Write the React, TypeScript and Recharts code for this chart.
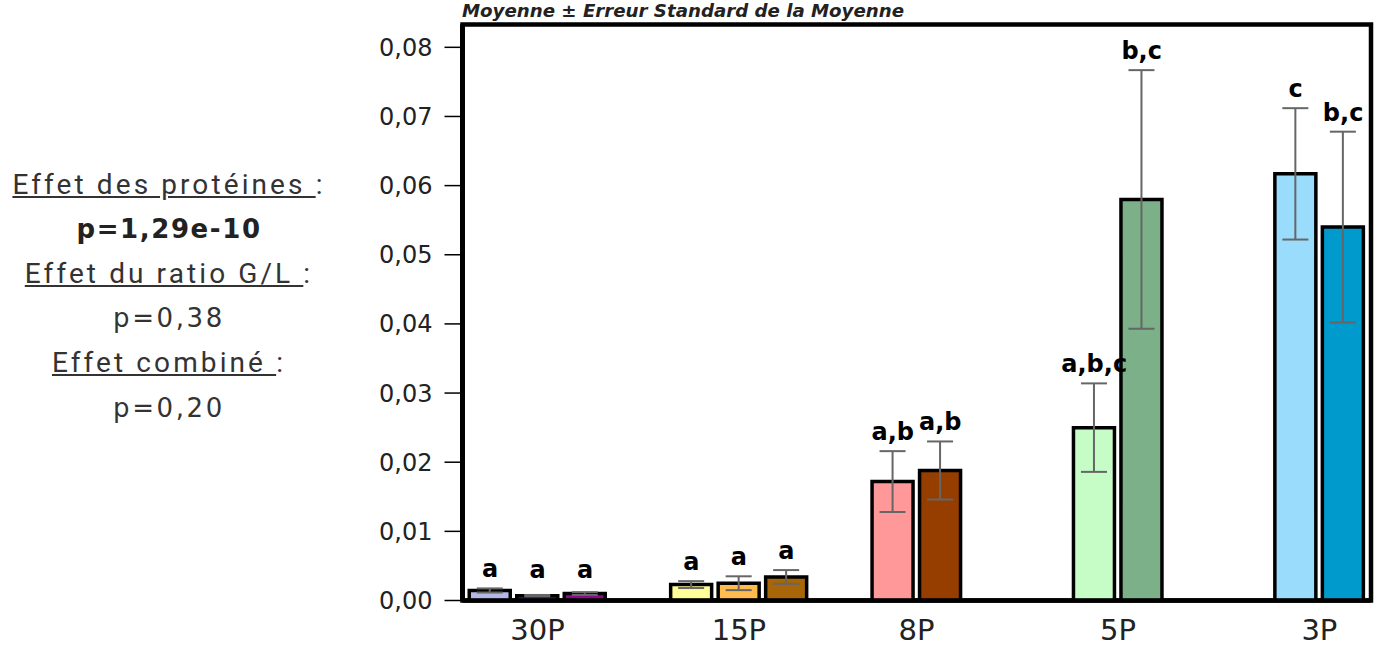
import React from 'react';
import { ComposedChart, Bar, Cell, ErrorBar, Scatter, XAxis, YAxis, ReferenceArea } from 'recharts';

// ---- data ----
const groupLabels = ['30P', '15P', '8P', '5P', '3P'];
const barGroup = [0, 0, 0, 1, 1, 1, 2, 2, 3, 3, 4, 4];
const barSlot = [0, 1, 2, 0, 1, 2, 0, 1, 0, 1, 0, 1];
const barMean = [0.00145, 0.0007, 0.001, 0.0023, 0.0025, 0.0034, 0.0172, 0.0188, 0.025, 0.058, 0.0617, 0.054];
const barSem = [0.0003, 0.0001, 0.0002, 0.0005, 0.001, 0.001, 0.0044, 0.0042, 0.0064, 0.0187, 0.0095, 0.0138];
const barColor = ['#b3b8e6', '#3b2fa0', '#8b0a8b', '#ffff99', '#ffbb4d', '#a86608', '#ff9999', '#953e00', '#c6fcc6', '#7bb089', '#9adcfc', '#009bcc'];
const barLetter = ['a', 'a', 'a', 'a', 'a', 'a', 'a,b', 'a,b', 'a,b,c', 'b,c', 'c', 'b,c'];
const yTicks = [0, 0.01, 0.02, 0.03, 0.04, 0.05, 0.06, 0.07, 0.08];

// layout constants (slot units)
const GROUP_STRIDE = 4.24;
const X_DOMAIN: [number, number] = [-0.579, 18.547];
const Y_DOMAIN: [number, number] = [0, 0.0833];

const data = barMean.map((m, i) => ({
  x: barGroup[i] * GROUP_STRIDE + barSlot[i],
  mean: m,
  sem: barSem[i],
  top: m + barSem[i],
  letter: barLetter[i],
  color: barColor[i],
}));

const groupCenters = groupLabels.map((_, g) => {
  const xs = data.filter((_, i) => barGroup[i] === g).map((d) => d.x);
  return (Math.min(...xs) + Math.max(...xs)) / 2;
});

const fmt = (v: number) => v.toFixed(2).replace('.', ',');

const XTick = (props: any) => {
  const { x, y, index } = props;
  return (
    <text x={x} y={y + 39.5} textAnchor="middle" fontFamily="DejaVu Sans" fontSize={29} fill="#222">
      {groupLabels[index]}
    </text>
  );
};

const LetterShape = (props: any) => {
  const { cx, cy, payload } = props;
  const y = Math.min(cy - 11, 578);
  return (
    <text x={cx} y={y} textAnchor="middle" fontFamily="DejaVu Sans" fontWeight="bold" fontSize={24} fill="#000">
      {payload.letter}
    </text>
  );
};

const lineBase: React.CSSProperties = { height: 44.6, lineHeight: '44.6px', whiteSpace: 'nowrap' };
const effLine: React.CSSProperties = { ...lineBase, letterSpacing: 3.1 };
const pLine: React.CSSProperties = { ...lineBase, fontFamily: 'DejaVu Sans', fontSize: 26, letterSpacing: 2.6 };

export default function App() {
  return (
    <div style={{ position: 'absolute', left: 0, top: 0, width: 1377, height: 648, background: '#fff' }}>
      <div
        style={{
          position: 'absolute',
          left: 0,
          top: 162.7,
          width: 338,
          textAlign: 'center',
          fontFamily: 'Roboto',
          fontSize: 28,
          color: '#333',
        }}
      >
        <div style={effLine}><span style={{ textDecoration: 'underline' }}>Effet des protéines </span>:</div>
        <div style={{ ...pLine, letterSpacing: 1.6, fontWeight: 700, color: '#222' }}>p=1,29e-10</div>
        <div style={effLine}><span style={{ textDecoration: 'underline' }}>Effet du ratio G/L </span>:</div>
        <div style={pLine}>p=0,38</div>
        <div style={effLine}><span style={{ textDecoration: 'underline' }}>Effet combiné </span>:</div>
        <div style={pLine}>p=0,20</div>
      </div>
      <div
        style={{
          position: 'absolute',
          left: 462,
          top: 0,
          fontFamily: 'DejaVu Sans',
          fontStyle: 'italic',
          fontWeight: 700,
          fontSize: 18.2,
          lineHeight: '22px',
          color: '#222',
          whiteSpace: 'nowrap',
        }}
      >
        Moyenne ± Erreur Standard de la Moyenne
      </div>
      <div style={{ position: 'absolute', left: 0, top: 0 }}>
        <ComposedChart
          width={1377}
          height={648}
          data={data}
          margin={{ top: 24.5, right: 6, bottom: 7.5, left: 382.5 }}
        >
          <XAxis
            xAxisId="b"
            dataKey="x"
            type="number"
            domain={X_DOMAIN}
            allowDataOverflow
            ticks={groupCenters}
            interval={0}
            tickLine={false}
            tickSize={0}
            tickMargin={0}
            height={40}
            tick={<XTick />}
            axisLine={{ stroke: '#000', strokeWidth: 4.5 }}
          />
          <YAxis
            yAxisId="l"
            type="number"
            domain={Y_DOMAIN}
            allowDataOverflow
            ticks={yTicks}
            interval={0}
            tickFormatter={fmt}
            width={80}
            tickSize={18}
            tickMargin={12}
            tickLine={{ stroke: '#000', strokeWidth: 1.5 }}
            tick={{ fontFamily: 'DejaVu Sans', fontSize: 24, fill: '#222' }}
            axisLine={{ stroke: '#000', strokeWidth: 5 }}
          />
          <ReferenceArea
            xAxisId="b"
            yAxisId="l"
            x1={X_DOMAIN[0]}
            x2={X_DOMAIN[1]}
            y1={Y_DOMAIN[0]}
            y2={Y_DOMAIN[1]}
            fill="none"
            fillOpacity={0}
            stroke="#000"
            strokeWidth={4.5}
            ifOverflow="visible"
          />
          <Bar xAxisId="b" yAxisId="l" dataKey="mean" barSize={41} isAnimationActive={false}>
            {data.map((d, i) => (
              <Cell key={i} fill={d.color} stroke="#000" strokeWidth={3.5} />
            ))}
            <ErrorBar dataKey="sem" width={13} stroke="#666" strokeWidth={2} direction="y" />
          </Bar>
          <Scatter
            xAxisId="b"
            yAxisId="l"
            dataKey="top"
            isAnimationActive={false}
            shape={<LetterShape />}
          />
        </ComposedChart>
      </div>
    </div>
  );
}
